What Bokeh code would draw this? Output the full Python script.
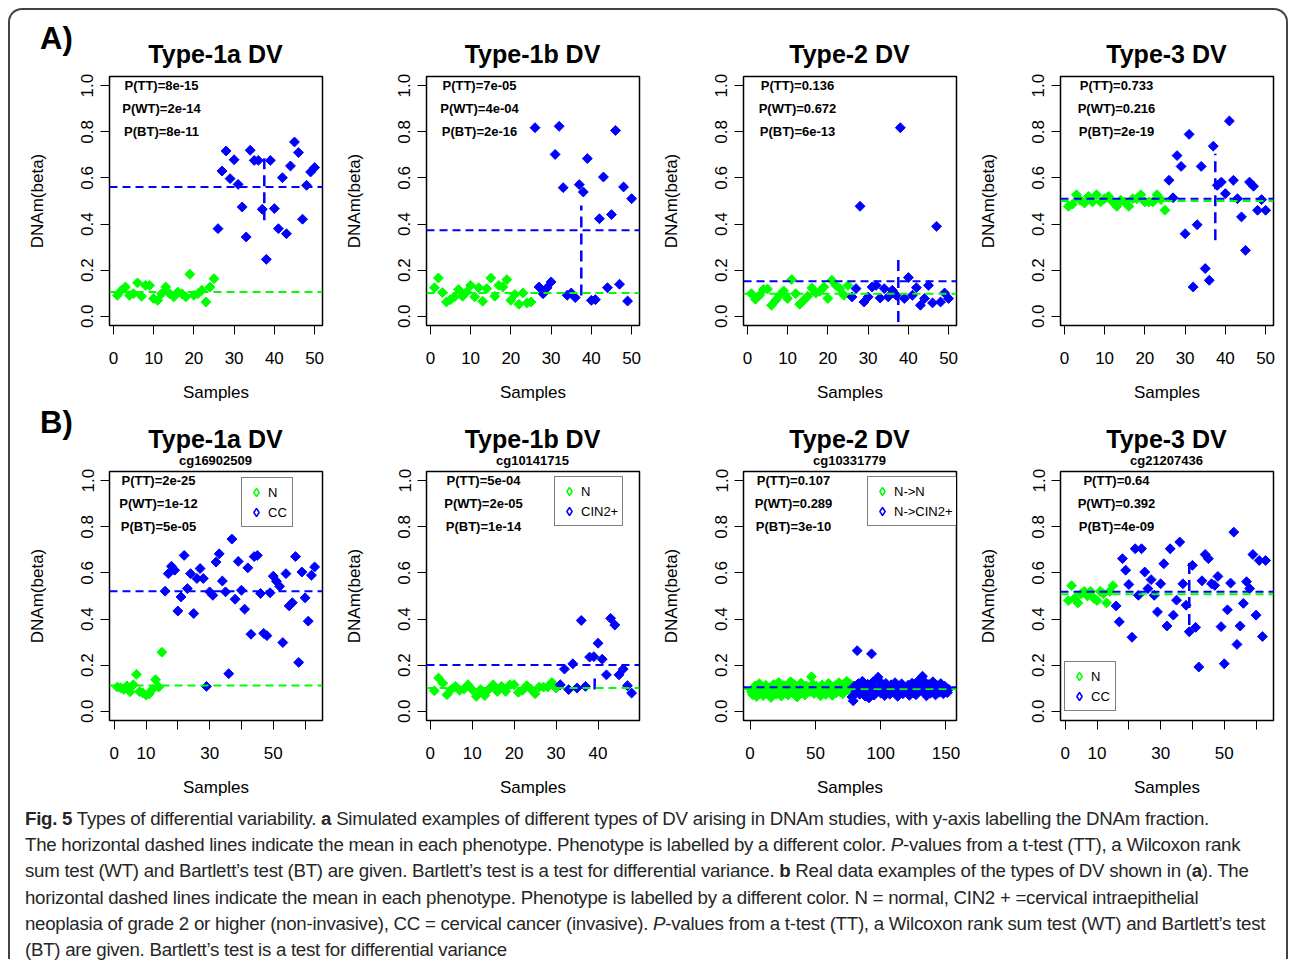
import math
from bokeh.plotting import figure
from bokeh.models import (Span, Label, Legend, LegendItem, FixedTicker,
                          PrintfTickFormatter, Div)
from bokeh.layouts import row, column
from bokeh.embed import file_html
from bokeh.resources import INLINE

GREEN = "#00FF00"
BLUE = "#0000FF"
FONT = "Liberation Sans"

# ---------------- data ----------------
y_ticks = [0.0, 0.2, 0.4, 0.6, 0.8, 1.0]
a_xticks = [0, 10, 20, 30, 40, 50]
a_xlabels = ["0", "10", "20", "30", "40", "50"]
b14_xticks = [0, 10, 20, 30, 40, 50, 60]
b14_xlabels = ["0", "10", "", "30", "", "50", ""]
b2_xticks = [0, 10, 20, 30, 40]
b2_xlabels = ["0", "10", "20", "30", "40"]
b3_xticks = [0, 50, 100, 150]
b3_xlabels = ["0", "50", "100", "150"]

# A) simulated
a1_green = [0.091, 0.113, 0.127, 0.091, 0.098, 0.145, 0.087, 0.134, 0.134, 0.077,
            0.069, 0.098, 0.127, 0.098, 0.084, 0.105, 0.098, 0.084, 0.182, 0.091,
            0.098, 0.113, 0.062, 0.127, 0.163]
a1_blue = [0.380, 0.630, 0.717, 0.597, 0.679, 0.572, 0.474, 0.344, 0.720, 0.676,
           0.676, 0.464, 0.247, 0.676, 0.467, 0.380, 0.601, 0.358, 0.652, 0.756,
           0.710, 0.421, 0.568, 0.626, 0.645]
a1_means = [0.105, 0.561]
a1_seg = [37.5, 0.416, 0.690]
a1_p = ["P(TT)=8e-15", "P(WT)=2e-14", "P(BT)=8e-11"]

a2_green = [0.124, 0.166, 0.103, 0.062, 0.072, 0.084, 0.116, 0.087, 0.105, 0.134,
            0.084, 0.124, 0.065, 0.120, 0.166, 0.087, 0.134, 0.127, 0.159, 0.069,
            0.095, 0.052, 0.101, 0.058, 0.062]
a2_blue = [0.818, 0.127, 0.098, 0.124, 0.149, 0.702, 0.824, 0.558, 0.091, 0.101,
           0.081, 0.571, 0.539, 0.684, 0.069, 0.072, 0.423, 0.604, 0.124, 0.441,
           0.806, 0.139, 0.561, 0.066, 0.510]
a2_means = [0.101, 0.373]
a2_seg = [37.5, 0.090, 0.480]
a2_p = ["P(TT)=7e-05", "P(WT)=4e-04", "P(BT)=2e-16"]

a3_green = [0.098, 0.074, 0.091, 0.116, 0.118, 0.048, 0.069, 0.091, 0.110, 0.077,
            0.159, 0.098, 0.052, 0.069, 0.087, 0.123, 0.101, 0.108, 0.127, 0.077,
            0.156, 0.134, 0.120, 0.091, 0.134]
a3_blue = [0.084, 0.120, 0.477, 0.062, 0.084, 0.127, 0.134, 0.079, 0.120, 0.084,
           0.113, 0.091, 0.818, 0.077, 0.168, 0.091, 0.124, 0.048, 0.077, 0.134,
           0.058, 0.390, 0.062, 0.101, 0.077]
a3_means = [0.098, 0.152]
a3_seg = [37.5, -0.025, 0.257]
a3_p = ["P(TT)=0.136", "P(WT)=0.672", "P(BT)=6e-13"]

a4_green = [0.477, 0.486, 0.527, 0.503, 0.491, 0.520, 0.496, 0.527, 0.496, 0.510,
            0.520, 0.496, 0.477, 0.503, 0.496, 0.477, 0.510, 0.510, 0.527, 0.496,
            0.496, 0.496, 0.527, 0.506, 0.460]
a4_blue = [0.590, 0.514, 0.697, 0.650, 0.358, 0.789, 0.127, 0.397, 0.650, 0.207,
           0.156, 0.738, 0.568, 0.582, 0.532, 0.847, 0.590, 0.510, 0.431, 0.286,
           0.582, 0.564, 0.460, 0.506, 0.460]
a4_means = [0.500, 0.510]
a4_seg = [37.5, 0.330, 0.705]
a4_p = ["P(TT)=0.733", "P(WT)=0.216", "P(BT)=2e-19"]

# B) real data
b1_green = [0.105, 0.102, 0.095, 0.110, 0.085, 0.115, 0.160, 0.085, 0.080, 0.070,
            0.075, 0.095, 0.137, 0.105, 0.256]
b1_blue = [0.521, 0.597, 0.629, 0.612, 0.435, 0.496, 0.676, 0.532, 0.597, 0.424,
           0.576, 0.619, 0.576, 0.108, 0.518, 0.503, 0.647, 0.683, 0.565, 0.518,
           0.163, 0.747, 0.486, 0.650, 0.525, 0.443, 0.622, 0.334, 0.671, 0.676,
           0.511, 0.338, 0.328, 0.514, 0.586, 0.564, 0.542, 0.298, 0.597, 0.457,
           0.471, 0.671, 0.212, 0.604, 0.492, 0.391, 0.590, 0.626]
b1_means = [0.112, 0.521]
b1_seg = None
b1_p = ["P(TT)=2e-25", "P(WT)=1e-12", "P(BT)=5e-05"]
b1_legend = ["N", "CC"]

b2_green = [0.089, 0.144, 0.122, 0.072, 0.094, 0.108, 0.091, 0.096, 0.115, 0.094,
            0.065, 0.094, 0.068, 0.096, 0.115, 0.086, 0.108, 0.086, 0.115, 0.115,
            0.082, 0.091, 0.111, 0.096, 0.076, 0.105, 0.105, 0.105, 0.125, 0.101]
b2_blue = [0.115, 0.183, 0.094, 0.206, 0.101, 0.394, 0.108, 0.235, 0.237, 0.295,
           0.226, 0.158, 0.403, 0.374, 0.158, 0.183, 0.111, 0.079]
b2_means = [0.101, 0.201]
b2_seg = [39.2, 0.094, 0.144]
b2_p = ["P(TT)=5e-04", "P(WT)=2e-05", "P(BT)=1e-14"]
b2_legend = ["N", "CIN2+"]

b3_green = [0.085, 0.072, 0.098, 0.110, 0.064, 0.091, 0.120, 0.082, 0.105, 0.068,
            0.095, 0.113, 0.078, 0.101, 0.087, 0.060, 0.093, 0.116, 0.099, 0.074,
            0.108, 0.125, 0.089, 0.066, 0.097, 0.112, 0.083, 0.104, 0.070, 0.094,
            0.128, 0.101, 0.079, 0.115, 0.088, 0.062, 0.096, 0.107, 0.122, 0.084,
            0.099, 0.071, 0.110, 0.092, 0.103, 0.086, 0.150, 0.118, 0.077, 0.095,
            0.109, 0.081, 0.100, 0.067, 0.114, 0.090, 0.105, 0.073, 0.098, 0.121,
            0.087, 0.102, 0.069, 0.093, 0.111, 0.080, 0.106, 0.124, 0.085, 0.097,
            0.076, 0.113, 0.090, 0.130, 0.101, 0.088, 0.117]
b3_blue = [0.062, 0.045, 0.110, 0.085, 0.263, 0.120, 0.074, 0.098, 0.130, 0.081,
           0.066, 0.105, 0.117, 0.058, 0.092, 0.249, 0.127, 0.070, 0.100, 0.088,
           0.148, 0.131, 0.079, 0.112, 0.095, 0.068, 0.121, 0.086, 0.103, 0.074,
           0.115, 0.091, 0.082, 0.124, 0.098, 0.065, 0.110, 0.087, 0.119, 0.076,
           0.101, 0.093, 0.084, 0.113, 0.069, 0.097, 0.122, 0.080, 0.106, 0.072,
           0.118, 0.134, 0.090, 0.103, 0.152, 0.085, 0.125, 0.067, 0.099, 0.116,
           0.078, 0.108, 0.128, 0.089, 0.071, 0.112, 0.095, 0.083, 0.120, 0.102,
           0.076, 0.109, 0.092, 0.081, 0.096]
b3_means = [0.097, 0.104]
b3_seg = None
b3_p = ["P(TT)=0.107", "P(WT)=0.289", "P(BT)=3e-10"]
b3_legend = ["N->N", "N->CIN2+"]

b4_green = [0.480, 0.545, 0.490, 0.470, 0.510, 0.520, 0.500, 0.520, 0.490, 0.480,
            0.520, 0.510, 0.470, 0.520, 0.545]
b4_blue = [0.457, 0.388, 0.662, 0.612, 0.550, 0.321, 0.705, 0.503, 0.705, 0.604,
           0.532, 0.571, 0.503, 0.431, 0.553, 0.640, 0.370, 0.705, 0.417, 0.482,
           0.734, 0.553, 0.460, 0.345, 0.633, 0.364, 0.192, 0.566, 0.680, 0.662,
           0.553, 0.546, 0.585, 0.367, 0.206, 0.440, 0.556, 0.777, 0.290, 0.370,
           0.468, 0.562, 0.532, 0.680, 0.417, 0.654, 0.324, 0.654]
b4_means = [0.508, 0.518]
b4_seg = [39.0, 0.374, 0.647]
b4_p = ["P(TT)=0.64", "P(WT)=0.392", "P(BT)=4e-09"]
b4_legend = ["N", "CC"]

p_levels = [1.0, 0.9, 0.8]

titles_a = ["Type-1a DV", "Type-1b DV", "Type-2 DV", "Type-3 DV"]
titles_b = ["Type-1a DV", "Type-1b DV", "Type-2 DV", "Type-3 DV"]
subtitles_b = ["cg16902509", "cg10141715", "cg10331779", "cg21207436"]

caption_lines = [
    "<b>Fig. 5</b> Types of differential variability. <b>a</b> Simulated examples of different types of DV arising in DNAm studies, with y-axis labelling the DNAm fraction.",
    "The horizontal dashed lines indicate the mean in each phenotype. Phenotype is labelled by a different color. <i>P</i>-values from a t-test (TT), a Wilcoxon rank",
    "sum test (WT) and Bartlett\u2019s test (BT) are given. Bartlett\u2019s test is a test for differential variance. <b>b</b> Real data examples of the types of DV shown in (<b>a</b>). The",
    "horizontal dashed lines indicate the mean in each phenotype. Phenotype is labelled by a different color. N = normal, CIN2 + =cervical intraepithelial",
    "neoplasia of grade 2 or higher (non-invasive), CC = cervical cancer (invasive). <i>P</i>-values from a t-test (TT), a Wilcoxon rank sum test (WT) and Bartlett\u2019s test",
    "(BT) are given. Bartlett\u2019s test is a test for differential variance",
]

# ---------------- layout constants ----------------
FIG_W = 317
FRAME_W = 213
FRAME_H = 249
MB_LEFT = 99
HEAD_H = {"A": 58, "B": 63}
MB_TOP = {"A": 8, "B": 3}
MB_BOTTOM = {"A": 80, "B": 81}
TITLE_TOP = {"A": 32, "B": 22}
SUB_TOP = 50
LETTER_POS = {"A": (30, 11), "B": (30, 0)}
CAP_W = 1276

panels = [
    dict(row="A", title=titles_a[0], sub=None, g=a1_green, b=a1_blue, m=a1_means, seg=a1_seg, p=a1_p,
         xt=a_xticks, xl=a_xlabels, leg=None, px=52),
    dict(row="A", title=titles_a[1], sub=None, g=a2_green, b=a2_blue, m=a2_means, seg=a2_seg, p=a2_p,
         xt=a_xticks, xl=a_xlabels, leg=None, px=53),
    dict(row="A", title=titles_a[2], sub=None, g=a3_green, b=a3_blue, m=a3_means, seg=a3_seg, p=a3_p,
         xt=a_xticks, xl=a_xlabels, leg=None, px=54),
    dict(row="A", title=titles_a[3], sub=None, g=a4_green, b=a4_blue, m=a4_means, seg=a4_seg, p=a4_p,
         xt=a_xticks, xl=a_xlabels, leg=None, px=56),
    dict(row="B", title=titles_b[0], sub=subtitles_b[0], g=b1_green, b=b1_blue, m=b1_means, seg=b1_seg, p=b1_p,
         xt=b14_xticks, xl=b14_xlabels, leg=b1_legend, legloc=(132, 193), px=49),
    dict(row="B", title=titles_b[1], sub=subtitles_b[1], g=b2_green, b=b2_blue, m=b2_means, seg=b2_seg, p=b2_p,
         xt=b2_xticks, xl=b2_xlabels, leg=b2_legend, legloc=(128, 194), px=57),
    dict(row="B", title=titles_b[2], sub=subtitles_b[2], g=b3_green, b=b3_blue, m=b3_means, seg=b3_seg, p=b3_p,
         xt=b3_xticks, xl=b3_xlabels, leg=b3_legend, legloc=(124, 194), px=50),
    dict(row="B", title=titles_b[3], sub=subtitles_b[3], g=b4_green, b=b4_blue, m=b4_means, seg=b4_seg, p=b4_p,
         xt=b14_xticks, xl=b14_xlabels, leg=b4_legend, legloc=(4, 9), px=56),
]


def header_div(spec, letter=None):
    r = spec["row"]
    parts = ['<div style="position:absolute;left:%dpx;width:%dpx;top:%dpx;text-align:center;'
             'font-size:25px;line-height:24px;font-weight:bold;">%s</div>'
             % (MB_LEFT, FRAME_W, TITLE_TOP[r], spec["title"])]
    if spec["sub"]:
        parts.append('<div style="position:absolute;left:%dpx;width:%dpx;top:%dpx;text-align:center;'
                     'font-size:13px;line-height:12px;font-weight:bold;">%s</div>'
                     % (MB_LEFT, FRAME_W, SUB_TOP, spec["sub"]))
    if letter:
        lx, ly = LETTER_POS[r]
        parts.append('<div style="position:absolute;left:%dpx;top:%dpx;font-size:31px;'
                     'line-height:36px;font-weight:bold;">%s</div>' % (lx, ly, letter))
    html = ('<div style="position:relative;width:%dpx;height:%dpx;font-family:\'Liberation Sans\',Arial,sans-serif;'
            'color:black;white-space:nowrap;">' % (FIG_W, HEAD_H[r]) + "".join(parts) + "</div>")
    return Div(text=html, width=FIG_W, height=HEAD_H[r], margin=(0, 0, 0, 0))


def add_text(p, text, x, y, size):
    p.add_layout(Label(x=x, y=y, x_units="screen", y_units="data", text=text,
                       text_font=FONT, text_font_size=size, text_font_style="bold",
                       text_align="center", text_baseline="middle", text_color="black"))


def make_panel(spec):
    g, b = spec["g"], spec["b"]
    r = spec["row"]
    n = len(g) + len(b)
    pad = 0.04 * (n - 1)
    mbb = MB_BOTTOM[r]
    p = figure(width=FIG_W, height=MB_TOP[r] + FRAME_H + mbb,
               x_range=(1 - pad, n + pad), y_range=(-0.04, 1.04),
               output_backend="svg", toolbar_location=None, title=None,
               min_border_left=MB_LEFT, min_border_right=FIG_W - MB_LEFT - FRAME_W,
               min_border_top=MB_TOP[r], min_border_bottom=mbb, margin=(0, 0, 0, 0))
    p.grid.visible = False
    p.outline_line_color = "black"
    p.outline_line_width = 1.5
    p.background_fill_color = "white"
    p.border_fill_color = "white"

    xa, ya = p.xaxis[0], p.yaxis[0]
    for ax in (xa, ya):
        ax.axis_line_color = "black"
        ax.major_tick_line_color = "black"
        ax.major_tick_in = 0
        ax.major_tick_out = 9
        ax.minor_tick_line_color = None
        ax.major_label_text_font = FONT
        ax.major_label_text_font_size = "17px"
        ax.major_label_text_color = "black"
        ax.axis_label_text_font = FONT
        ax.axis_label_text_font_size = "17px"
        ax.axis_label_text_font_style = "normal"
        ax.axis_label_text_color = "black"
    xa.ticker = FixedTicker(ticks=spec["xt"])
    xa.major_label_overrides = {t: l for t, l in zip(spec["xt"], spec["xl"])}
    xa.axis_label = "Samples"
    xa.major_label_standoff = 17
    xa.axis_label_standoff = 16
    ya.ticker = FixedTicker(ticks=y_ticks)
    ya.formatter = PrintfTickFormatter(format="%.1f")
    ya.major_label_orientation = "vertical"
    ya.major_label_standoff = 7
    ya.axis_label = "DNAm(beta)"
    ya.axis_label_standoff = 32

    xg = list(range(1, len(g) + 1))
    xb = list(range(len(g) + 1, n + 1))
    p.scatter(xg, g, marker="square", angle=math.pi / 4, size=7,
              fill_color=GREEN, line_color=GREEN, line_width=1)
    p.scatter(xb, b, marker="square", angle=math.pi / 4, size=7,
              fill_color=BLUE, line_color=BLUE, line_width=1)

    p.add_layout(Span(location=spec["m"][0], dimension="width", line_color=GREEN,
                      line_width=2, line_dash="8 5"))
    p.add_layout(Span(location=spec["m"][1], dimension="width", line_color=BLUE,
                      line_width=2, line_dash="8 5"))
    if spec["seg"]:
        sx, s0, s1 = spec["seg"]
        p.segment(x0=[sx], y0=[s0], x1=[sx], y1=[s1], line_color=BLUE,
                  line_width=2.5, line_dash="11 6")

    for txt, lev in zip(spec["p"], p_levels):
        add_text(p, txt, spec["px"], lev, "13px")

    if spec["leg"]:
        nan = float("nan")
        lg = p.scatter(x=[nan], y=[nan], marker="diamond", size=8,
                       fill_color=None, line_color=GREEN, line_width=1.5)
        lb = p.scatter(x=[nan], y=[nan], marker="diamond", size=8,
                       fill_color=None, line_color=BLUE, line_width=1.5)
        legend = Legend(items=[LegendItem(label=spec["leg"][0], renderers=[lg]),
                               LegendItem(label=spec["leg"][1], renderers=[lb])],
                        location=spec["legloc"], border_line_color="black",
                        border_line_width=1.5, background_fill_color="white",
                        background_fill_alpha=1.0, label_text_font=FONT,
                        label_text_color="black",
                        label_text_font_size="13px", glyph_width=20, glyph_height=20,
                        label_height=16, label_standoff=2, padding=4, spacing=0, margin=0)
        p.add_layout(legend)
    return p


cols = []
for i, spec in enumerate(panels):
    letter = "A)" if i == 0 else ("B)" if i == 4 else None)
    cols.append(column(header_div(spec, letter), make_panel(spec), spacing=0))

cap_html = ('<div style="font-family:\'Liberation Sans\',Arial,sans-serif;'
            'font-size:18.7px;letter-spacing:-0.27px;line-height:26.2px;color:#262626;'
            'white-space:nowrap;padding:5px 0 0 15px;">'
            + "".join("<div>%s</div>" % ln for ln in caption_lines) + "</div>")
cap = Div(text=cap_html, width=CAP_W, height=158, margin=(0, 0, 0, 0))

layout = column(row(*cols[:4], spacing=0), row(*cols[4:], spacing=0), cap, spacing=0,
                margin=(8, 0, 0, 8),
                styles={"border": "2px solid #444", "border-bottom": "none",
                        "border-radius": "14px 14px 0 0", "background": "white"})

open("out.html", "w").write(file_html(layout, INLINE))
